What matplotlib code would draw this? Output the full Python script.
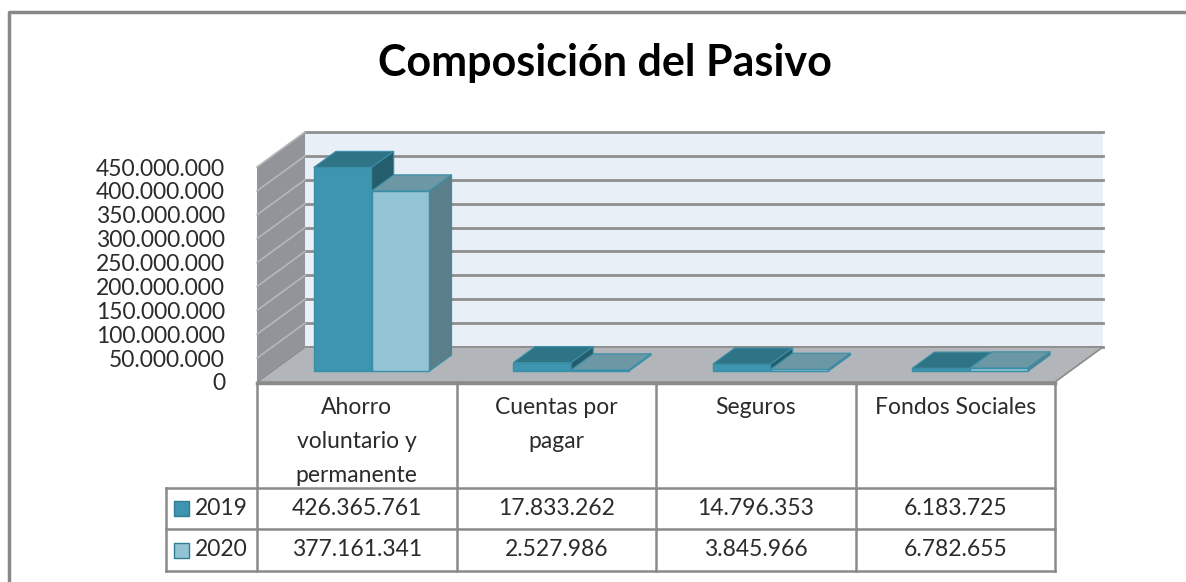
import matplotlib.pyplot as plt
from matplotlib.patches import Polygon, Rectangle
from matplotlib.ticker import FuncFormatter
import numpy as np

# data
categories = ["Ahorro\nvoluntario y\npermanente", "Cuentas por\npagar", "Seguros", "Fondos Sociales"]
series_names = ["2019", "2020"]
values_2019 = [426365761, 17833262, 14796353, 6183725]
values_2020 = [377161341, 2527986, 3845966, 6782655]
y_ticks = np.arange(0, 450_000_001, 50_000_000)
y_max = 450_000_000

front_colors = ["#3D95AF", "#93C4D6"]
top_colors = ["#2E7486", "#6C97A4"]
side_colors = ["#245E6D", "#5A7F8A"]
edge_color = "#3A8FA8"


def fmt(v):
    return f"{int(v):,}".replace(",", ".")


W, H = 1186, 582
plt.rcParams["font.family"] = ["Lato", "DejaVu Sans"]
fig = plt.figure(figsize=(W / 100, H / 100), dpi=100)

# full-figure overlay in pixel units for title, border and data table
bg = fig.add_axes([0, 0, 1, 1], zorder=0)
bg.set_xlim(0, W)
bg.set_ylim(H, 0)
bg.axis("off")

# front plane of the 3d box
x0, x1, yb, yt = 257, 1055, 382, 167
ax = fig.add_axes([x0 / W, 1 - yb / H, (x1 - x0) / W, (yb - yt) / H], zorder=1)
ax.patch.set_visible(False)
ax.set_xlim(0, len(categories))
ax.set_ylim(0, y_max)
for s in ax.spines.values():
    s.set_visible(False)
ax.set_xticks([])
ax.set_yticks(y_ticks)
ax.yaxis.set_major_formatter(FuncFormatter(lambda v, p: fmt(v)))
ax.tick_params(axis="y", length=0, pad=23, labelsize=16.5, labelcolor="#2B2B2B")

# depth offset (pixels) turned into data units
DX, DY = 48, 35
ddx = DX / ((x1 - x0) / len(categories))
ddy = DY / ((yb - yt) / y_max)


def P(x, y, d):
    return (x + d * ddx, y + d * ddy)


def face(pts, fc, z, ec=None, lw=0.0):
    ax.add_patch(Polygon(pts, closed=True, fc=fc, ec=ec if ec else fc, lw=lw,
                         clip_on=False, zorder=z))


n = len(categories)
# walls and floor
face([P(0, 0, 1), P(n, 0, 1), P(n, y_max, 1), P(0, y_max, 1)], "#E8EFF6", 1)
face([P(0, 0, 0), P(0, 0, 1), P(0, y_max, 1), P(0, y_max, 0)], "#919599", 1)
for v in y_ticks:
    a, b = P(0, v, 1), P(n, v, 1)
    ax.plot([a[0], b[0]], [a[1], b[1]], color="#8F8F8F", lw=2, zorder=2, clip_on=False)
    a, b = P(0, v, 0), P(0, v, 1)
    ax.plot([a[0], b[0]], [a[1], b[1]], color="#B4B7BB", lw=1.2, zorder=2, clip_on=False)
face([P(0, 0, 0), P(n, 0, 0), P(n, 0, 1), P(0, 0, 1)], "#B2B5B9", 3, ec="#8C8C8C", lw=1.2)

# bars
bar_w, start, d0, d1 = 0.29, 0.21, 0.31, 0.77
z = 10
for i in range(n):
    for s, vals in enumerate([values_2019, values_2020]):
        h = vals[i]
        xa = i + start + s * bar_w
        xb = xa + bar_w
        face([P(xa, 0, d0), P(xb, 0, d0), P(xb, h, d0), P(xa, h, d0)], front_colors[s], z, ec=edge_color, lw=1)
        face([P(xa, h, d0), P(xb, h, d0), P(xb, h, d1), P(xa, h, d1)], top_colors[s], z + 1, ec=edge_color, lw=0.8)
        face([P(xb, 0, d0), P(xb, h, d0), P(xb, h, d1), P(xb, 0, d1)], side_colors[s], z + 1, ec=edge_color, lw=0.8)
        z += 2

# data table
col_x = [ax.transData.transform((i, 0))[0] for i in range(n + 1)]
line_c = "#8A8A8A"
row_top, row1, row2, row3 = 383, 488, 529, 571
leg_left = 166
bg.plot([col_x[0], col_x[-1]], [row_top, row_top], color="#8C8C8C", lw=2.5)
for cx in col_x:
    bg.plot([cx, cx], [row_top, row3], color=line_c, lw=1.8)
for ry in [row1, row2, row3]:
    bg.plot([leg_left, col_x[-1]], [ry, ry], color=line_c, lw=1.8)
bg.plot([leg_left, leg_left], [row1, row3], color=line_c, lw=1.8)

for i, cat in enumerate(categories):
    cx = (col_x[i] + col_x[i + 1]) / 2
    bg.text(cx, 397, cat, ha="center", va="top", fontsize=16.5, linespacing=1.75, color="#2B2B2B")
    for r, vals in enumerate([values_2019, values_2020]):
        ry = [(row1 + row2) / 2, (row2 + row3) / 2][r]
        bg.text(cx, ry, fmt(vals[i]), ha="center", va="center", fontsize=16.5, color="#2B2B2B")

for r, name in enumerate(series_names):
    ry = [(row1 + row2) / 2, (row2 + row3) / 2][r]
    bg.add_patch(Rectangle((174, ry - 7.5), 15, 15, fc=front_colors[r], ec="#2E7D93", lw=1))
    bg.text(195, ry, name, ha="left", va="center", fontsize=16.5, color="#2B2B2B")

# title and chart border
bg.text(605, 63, "Composición del Pasivo", ha="center", va="center", fontsize=31, weight="bold")
bg.plot([9, 9, W], [H, 12, 12], color="#888888", lw=2.5)

plt.savefig("out.png", dpi=100)
